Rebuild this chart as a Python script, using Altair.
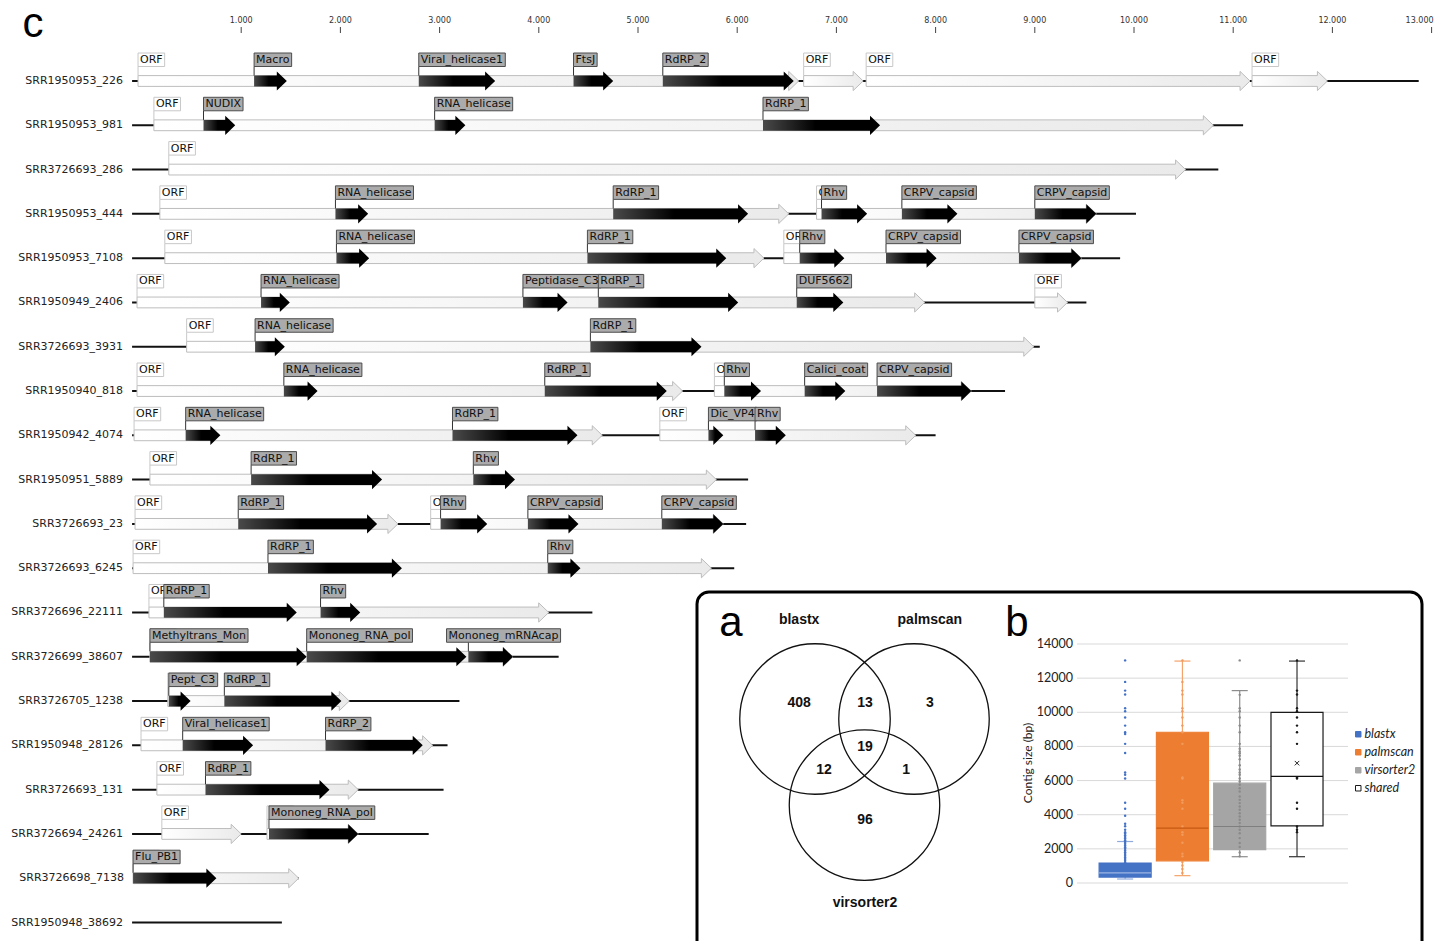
import altair as alt
import pandas as pd

# ---------------- Panel c : genome maps ----------------
contigs = ["SRR1950953_226", "SRR1950953_981", "SRR3726693_286", "SRR1950953_444",
           "SRR1950953_7108", "SRR1950949_2406", "SRR3726693_3931", "SRR1950940_818",
           "SRR1950942_4074", "SRR1950951_5889", "SRR3726693_23", "SRR3726693_6245",
           "SRR3726696_22111", "SRR3726699_38607", "SRR3726705_1238", "SRR1950948_28126",
           "SRR3726693_131", "SRR3726694_24261", "SRR3726698_7138", "SRR1950948_38692"]
contig_start = [-100, -100, -100, -100, -100, -100, -100, -100, -100, -100,
                -100, -100, -100, -100, -100, -100, -100, -100, -90, -100]
contig_end = [12870, 11100, 10850, 10020, 9860, 9520, 9050, 8700, 8000, 6110,
              6090, 5970, 4540, 4200, 3200, 3080, 3040, 2890, 1580, 1410]

orf_row = [0, 0, 0, 0, 1, 2, 3, 3, 4, 4, 5, 5, 6, 7, 7, 8, 8, 9, 10, 10,
           11, 12, 13, 14, 15, 16, 17, 17, 18]
orf_start = [-40, 6670, 7300, 11190, 120, 270, 180, 6800, 230, 6470, -50, 9000, 450,
             -50, 5770, -80, 5220, 80, -70, 2910, -90, 70, 80, 260, -10, 150, 200, 1260, -90]
orf_end = [6620, 7270, 11170, 11950, 10800, 10520, 6520, 9620, 6270, 9470, 7890, 9330, 8990,
           5450, 8360, 4640, 7800, 5790, 2580, 5860, 5740, 4100, 3740, 2090, 2930, 2180,
           1000, 2180, 1580]

dom_row = [0, 0, 0, 0, 1, 1, 1, 3, 3, 3, 3, 3, 4, 4, 4, 4, 4, 5, 5, 5, 5, 6, 6,
           7, 7, 7, 7, 7, 8, 8, 8, 8, 9, 9, 10, 10, 10, 10, 11, 11, 12, 12,
           13, 13, 13, 14, 14, 15, 15, 16, 17, 18]
dom_name = ["Macro", "Viral_helicase1", "FtsJ", "RdRP_2",
            "NUDIX", "RNA_helicase", "RdRP_1",
            "RNA_helicase", "RdRP_1", "Rhv", "CRPV_capsid", "CRPV_capsid",
            "RNA_helicase", "RdRP_1", "Rhv", "CRPV_capsid", "CRPV_capsid",
            "RNA_helicase", "Peptidase_C3", "RdRP_1", "DUF5662",
            "RNA_helicase", "RdRP_1",
            "RNA_helicase", "RdRP_1", "Rhv", "Calici_coat", "CRPV_capsid",
            "RNA_helicase", "RdRP_1", "Dic_VP4", "Rhv",
            "RdRP_1", "Rhv",
            "RdRP_1", "Rhv", "CRPV_capsid", "CRPV_capsid",
            "RdRP_1", "Rhv",
            "RdRP_1", "Rhv",
            "Methyltrans_Mon", "Mononeg_RNA_pol", "Mononeg_mRNAcap",
            "Pept_C3", "RdRP_1",
            "Viral_helicase1", "RdRP_2",
            "RdRP_1",
            "Mononeg_RNA_pol",
            "Flu_PB1"]
dom_start = [1130, 2790, 4350, 5250, 620, 2950, 6260, 1950, 4750, 6850, 7660, 9000,
             1960, 4490, 6630, 7500, 8840, 1200, 3840, 4600, 6600, 1140, 4520,
             1430, 4060, 5870, 6680, 7410, 440, 3130, 5710, 6180, 1100, 3340,
             970, 3010, 3890, 5240, 1270, 4090, 220, 1800, 80, 1660, 3290,
             270, 830, 410, 1850, 640, 1280, -90]
dom_end = [1460, 3560, 4750, 6570, 940, 3260, 7440, 2280, 6110, 7310, 8220, 9620,
           2290, 5890, 7080, 8010, 9470, 1490, 4290, 6010, 7070, 1440, 5640,
           1770, 5290, 6240, 7090, 8360, 790, 4390, 5860, 6490, 2420, 3760,
           2370, 3480, 4400, 5860, 2620, 4420, 1560, 2200, 1660, 3270, 3740,
           490, 2010, 1120, 2830, 1890, 2180, 750]
dom_label_start = list(dom_start)
dom_label_start[44] = 3070  # Mononeg_mRNAcap label is shifted left

axis_ticks = [1000, 2000, 3000, 4000, 5000, 6000, 7000, 8000, 9000, 10000, 11000, 12000, 13000]

# ---------------- Panel a : Venn ----------------
venn_sets = ["blastx", "palmscan", "virsorter2"]
venn_cx = [0.0, 1.0, 0.5]
venn_cy = [0.0, 0.0, -0.87]
venn_radius = 0.76
venn_label_x = [-0.16, 1.16, 0.505]
venn_label_y = [1.0, 1.0, -1.86]
venn_counts = ["408", "13", "3", "19", "12", "1", "96"]
venn_count_x = [-0.16, 0.505, 1.16, 0.505, 0.09, 0.92, 0.505]
venn_count_y = [0.16, 0.16, 0.16, -0.28, -0.52, -0.52, -1.02]

# ---------------- Panel b : box plot ----------------
groups = ["blastx", "palmscan", "virsorter2", "shared"]
q_low = [234, 430, 1540, 1540]
q1 = [350, 1300, 1950, 3350]
q_med = [590, 3220, 3310, 6240]
q3 = [1170, 8830, 5850, 10000]
q_high = [2430, 13000, 11270, 13000]
shared_mean = 7020
box_ticks = [0, 2000, 4000, 6000, 8000, 10000, 12000, 14000]
pts_blastx = [13040, 11780, 11270, 11040, 10240, 10060, 9690, 9220, 8830, 8730, 8150, 7620,
              6470, 6340, 6120, 4700, 4350, 3940, 3470, 3320, 3120, 2980, 2900, 2800, 2700,
              2600, 2500, 2400, 2300, 2200, 2100, 2000, 1900, 1800, 1700, 1600, 1500, 1400,
              1300, 1200]
pts_palmscan = [13040, 11780, 11270, 11040, 10240, 10060, 9690, 9220, 8830, 8150, 6180, 6120,
                4850, 4700, 4350, 3310, 2980, 2830, 2360, 1720, 1560, 1230, 1030, 820, 580]
pts_virsorter2 = [13040, 11020, 10240, 10060, 9690, 9220, 8830, 8150, 7860, 7700, 7600, 7450,
                  7250, 6900, 6650, 6470, 6340, 6120, 5950, 5750, 5550, 5360, 5070, 4870, 4680,
                  4480, 4290, 4090, 3900, 3700, 3510, 3310, 3120, 2920, 2630, 2340, 2110, 1790,
                  1560]
pts_shared = [13040, 11270, 11040, 10240, 10060, 9690, 9220, 8830, 8150, 6180, 6120, 4700,
              4350, 3310, 3120, 2980]

# ================= styling / geometry =================
XD, XR = [0, 13000], [134, 1423.6]
YD, YR = [0, 19], [73, 914.5]
PX_PER_BP = (XR[1] - XR[0]) / (XD[1] - XD[0])
ROW_PX = (YR[1] - YR[0]) / (YD[1] - YD[0])
XS = alt.Scale(domain=XD, range=XR, nice=False, zero=False)
YS = alt.Scale(domain=YD, range=YR, nice=False, zero=False)

DJV = {'A': 1401, 'B': 1405, 'C': 1430, 'D': 1577, 'E': 1294, 'F': 1178, 'I': 604, 'J': 604,
       'M': 1767, 'N': 1532, 'O': 1612, 'P': 1235, 'R': 1423, 'S': 1300, 'T': 1251,
       'U': 1499, 'V': 1401, 'X': 1403, 'a': 1255, 'b': 1300, 'c': 1126, 'd': 1300,
       'e': 1260, 'f': 721, 'g': 1300, 'h': 1298, 'i': 569, 'j': 569, 'l': 569, 'm': 1995,
       'n': 1298, 'o': 1253, 'p': 1300, 'r': 842, 's': 1067, 't': 803, 'u': 1298,
       'v': 1212, 'y': 1212, '_': 1024}
FS = 11


def text_px(s):
    return sum(DJV.get(ch, 1303) for ch in s) / 2048.0 * FS


BODY_H = 5.4 / ROW_PX
HEAD_H = 9.6 / ROW_PX
HEAD_L = 10.0 / PX_PER_BP
LAB_TOP = -28.0 / ROW_PX
LAB_BOT = -14.5 / ROW_PX
LAB_MID = -21.0 / ROW_PX


def arrows(rows, starts, ends, prefix):
    recs = []
    for k, (r, s, e) in enumerate(zip(rows, starts, ends)):
        h = max(s, e - HEAD_L)
        pts = []
        if h - 0.5 > s:
            pts += [(s, r - BODY_H, r + BODY_H), (h - 0.5, r - BODY_H, r + BODY_H)]
        pts += [(h, r - HEAD_H, r + HEAD_H), (e, r, r)]
        for (x, y0, y1) in pts:
            recs.append({"id": f"{prefix}{k}", "x": x, "y": y0, "y2": y1})
    return pd.DataFrame(recs)


def labels(rows, starts, names, feat_starts):
    return pd.DataFrame({
        "row": rows, "name": names, "ls": starts, "fs": feat_starts,
        "le": [s + (text_px(n) + 4) / PX_PER_BP for s, n in zip(starts, names)],
        "ly0": [r + LAB_TOP for r in rows], "ly1": [r + LAB_BOT for r in rows],
        "lym": [r + LAB_MID for r in rows], "cy1": [r - BODY_H for r in rows],
    })


lines_df = pd.DataFrame({"row": list(range(len(contigs))), "name": contigs,
                         "x0": contig_start, "x1": contig_end})
orf_arrows = arrows(orf_row, orf_start, orf_end, "o")
dom_arrows = arrows(dom_row, dom_start, dom_end, "d")
orf_labels = labels(orf_row, orf_start, ["ORF"] * len(orf_row), orf_start)
dom_labels = labels(dom_row, dom_label_start, dom_name, dom_start)
# an ORF label that sits exactly under a domain label is completely hidden: no text for it
hidden = [any(dr == r and abs(ds - s) < 40 for dr, ds in zip(dom_row, dom_label_start))
          for r, s in zip(orf_row, orf_start)]
orf_label_text = orf_labels[[not h for h in hidden]]

ORF_GRAD = alt.LinearGradient(gradient="linear", x1=0, x2=1, y1=0, y2=0,
                              stops=[alt.GradientStop(offset=0, color="#ffffff"),
                                     alt.GradientStop(offset=1, color="#eaeaea")])
DOM_GRAD = alt.LinearGradient(gradient="linear", x1=0, x2=1, y1=0, y2=0,
                              stops=[alt.GradientStop(offset=0, color="#4a4a4a"),
                                     alt.GradientStop(offset=0.45, color="#000000"),
                                     alt.GradientStop(offset=1, color="#000000")])

tick_df = pd.DataFrame({"t": axis_ticks,
                        "lab": [f"{t:,}".replace(",", ".") for t in axis_ticks]})
ax_ticks = alt.Chart(tick_df).mark_rule(color="#444", strokeWidth=1).encode(
    x=alt.X("t:Q", scale=XS, axis=None), y=alt.value(19), y2=alt.value(25))
ax_labels = alt.Chart(tick_df[:-1]).mark_text(align="center", baseline="bottom",
                                               font="DejaVu Sans", fontSize=8,
                                               color="#333").encode(
    x=alt.X("t:Q", scale=XS, axis=None), y=alt.value(17), text="lab:N")
ax_last = alt.Chart(tick_df[-1:]).mark_text(align="right", baseline="bottom", dx=2,
                                             font="DejaVu Sans", fontSize=8,
                                             color="#333").encode(
    x=alt.X("t:Q", scale=XS, axis=None), y=alt.value(17), text="lab:N")

c_lines = alt.Chart(lines_df).mark_rule(color="#111", strokeWidth=2).encode(
    x=alt.X("x0:Q", scale=XS, axis=None), x2="x1:Q",
    y=alt.Y("row:Q", scale=YS, axis=None))
c_names = alt.Chart(lines_df).mark_text(align="right", baseline="middle", dx=-9,
                                        font="DejaVu Sans", fontSize=11, color="#222").encode(
    x=alt.X("x0:Q", scale=XS, axis=None), y=alt.Y("row:Q", scale=YS, axis=None), text="name:N")


def arrow_layer(df, **mk):
    return alt.Chart(df).mark_area(**mk).encode(
        x=alt.X("x:Q", scale=XS, axis=None), y=alt.Y("y:Q", scale=YS, axis=None),
        y2="y2:Q", detail="id:N")


def label_layers(df, df_text, box_fill, box_stroke, conn):
    connector = alt.Chart(df).mark_rule(color=conn, strokeWidth=1).encode(
        x=alt.X("fs:Q", scale=XS, axis=None), y=alt.Y("ly1:Q", scale=YS, axis=None), y2="cy1:Q")
    box = alt.Chart(df).mark_rect(fill=box_fill, stroke=box_stroke, strokeWidth=1).encode(
        x=alt.X("ls:Q", scale=XS, axis=None), x2="le:Q",
        y=alt.Y("ly0:Q", scale=YS, axis=None), y2="ly1:Q")
    txt = alt.Chart(df_text).mark_text(align="left", baseline="middle", dx=2, font="DejaVu Sans",
                                       fontSize=FS, color="#111").encode(
        x=alt.X("ls:Q", scale=XS, axis=None), y=alt.Y("lym:Q", scale=YS, axis=None),
        text="name:N")
    return [connector, box, txt]


panel_c = alt.layer(
    ax_ticks, ax_labels, ax_last,
    c_lines, c_names,
    arrow_layer(orf_arrows, fill=ORF_GRAD, stroke="#bdbdbd", strokeWidth=1),
    arrow_layer(dom_arrows, fill=DOM_GRAD, strokeWidth=0),
    *label_layers(orf_labels, orf_label_text, "#ffffff", "#c8c8c8", "#c8c8c8"),
    *label_layers(dom_labels, dom_labels, "#ababab", "#4d4d4d", "#333333"),
)

# ---------------- Venn ----------------
VXS = alt.Scale(domain=[-1, 2], range=[708, 1005], nice=False, zero=False)
VYS = alt.Scale(domain=[-2, 1], range=[909, 612], nice=False, zero=False)
V_UNIT_PX = (1005 - 708) / 3.0
venn_c = pd.DataFrame({"set": venn_sets, "cx": venn_cx, "cy": venn_cy,
                       "lx": venn_label_x, "ly": venn_label_y})
venn_n = pd.DataFrame({"n": venn_counts, "x": venn_count_x, "y": venn_count_y})
circles = alt.Chart(venn_c).mark_point(shape="circle", filled=False, color="#111",
                                       strokeWidth=1.3, opacity=1,
                                       size=(2 * venn_radius * V_UNIT_PX) ** 2).encode(
    x=alt.X("cx:Q", scale=VXS, axis=None), y=alt.Y("cy:Q", scale=VYS, axis=None))
set_labels = alt.Chart(venn_c).mark_text(font="Liberation Sans", fontWeight="bold",
                                         fontSize=14, color="#111").encode(
    x=alt.X("lx:Q", scale=VXS, axis=None), y=alt.Y("ly:Q", scale=VYS, axis=None), text="set:N")
counts = alt.Chart(venn_n).mark_text(font="Liberation Sans", fontWeight="bold",
                                     fontSize=14, color="#111").encode(
    x=alt.X("x:Q", scale=VXS, axis=None), y=alt.Y("y:Q", scale=VYS, axis=None), text="n:N")
venn = alt.layer(circles, set_labels, counts)

# ---------------- Box plot ----------------
BXD = [-0.84, 3.89]
BXS = alt.Scale(domain=BXD, range=[1069, 1340], nice=False, zero=False)
BYS = alt.Scale(domain=[0, 14000], range=[875, 636], nice=False, zero=False)
HALF = 0.454
CAP = 0.14
fills = ["#4472C4", "#ED7D31", "#A5A5A5", "#FFFFFF"]
strokes = ["#4472C4", "#ED7D31", "#A5A5A5", "#1a1a1a"]
whisk_col = ["#8FAADC", "#F4A46A", "#8c8c8c", "#333333"]
med_col = ["#9DB5E3", "#C55A11", "#7f7f7f", "#111111"]
pt_col = ["#4472C4", "#F29A5C", "#8a8a8a", "#1a1a1a"]

idx = list(range(len(groups)))
box_df = pd.DataFrame({"group": groups, "i": idx, "lo": q_low, "q1": q1, "med": q_med,
                       "q3": q3, "hi": q_high,
                       "b0": [i - HALF for i in idx], "b1": [i + HALF for i in idx],
                       "c0": [i - CAP for i in idx], "c1": [i + CAP for i in idx],
                       "wc": whisk_col, "mc": med_col})
pts = []
for i, (g, vals) in enumerate(zip(groups, [pts_blastx, pts_palmscan, pts_virsorter2, pts_shared])):
    for v in vals:
        pts.append({"group": g, "i": i, "v": v, "pc": pt_col[i]})
pts_df = pd.DataFrame(pts)
grid_df = pd.DataFrame({"t": box_ticks, "g0": BXD[0], "g1": BXD[1]})
mean_df = pd.DataFrame({"i": [3], "v": [shared_mean]})

LEG = alt.Legend(orient="none", legendX=1344, legendY=720, title=None, symbolType="square",
                 symbolSize=30, symbolStrokeWidth=1, labelFont="Lato", labelFontStyle="italic",
                 labelFontSize=12.5, labelColor="#222", rowPadding=5, labelOffset=0, padding=0)

grid = alt.Chart(grid_df).mark_rule(color="#d9d9d9", strokeWidth=1).encode(
    x=alt.X("g0:Q", scale=BXS, axis=None), x2="g1:Q",
    y=alt.Y("t:Q", scale=BYS, axis=None))
ylabels = alt.Chart(grid_df).mark_text(align="right", baseline="middle", dx=-4, font="Lato",
                                       fontSize=12.5, color="#222").encode(
    x=alt.X("g0:Q", scale=BXS, axis=None), y=alt.Y("t:Q", scale=BYS, axis=None),
    text=alt.Text("t:Q", format="d"))
ytitle = alt.Chart(pd.DataFrame({"ttl": ["Contig size (bp)"]})).mark_text(
    angle=270, align="center", baseline="middle", font="Lato", fontSize=12, color="#222").encode(
    x=alt.value(1020), y=alt.value(755), text="ttl:N")
whiskers = alt.Chart(box_df).mark_rule(strokeWidth=1.2).encode(
    x=alt.X("i:Q", scale=BXS, axis=None), y=alt.Y("lo:Q", scale=BYS, axis=None), y2="hi:Q",
    color=alt.Color("wc:N", scale=None))
cap_hi = alt.Chart(box_df).mark_rule(strokeWidth=1.2).encode(
    x=alt.X("c0:Q", scale=BXS, axis=None), x2="c1:Q", y=alt.Y("hi:Q", scale=BYS, axis=None),
    color=alt.Color("wc:N", scale=None))
cap_lo = alt.Chart(box_df).mark_rule(strokeWidth=1.2).encode(
    x=alt.X("c0:Q", scale=BXS, axis=None), x2="c1:Q", y=alt.Y("lo:Q", scale=BYS, axis=None),
    color=alt.Color("wc:N", scale=None))
boxes = alt.Chart(box_df).mark_rect(strokeWidth=1.2).encode(
    x=alt.X("b0:Q", scale=BXS, axis=None), x2="b1:Q",
    y=alt.Y("q1:Q", scale=BYS, axis=None), y2="q3:Q",
    fill=alt.Fill("group:N", scale=alt.Scale(domain=groups, range=fills), legend=LEG),
    stroke=alt.Stroke("group:N", scale=alt.Scale(domain=groups, range=strokes), legend=LEG))
points = alt.Chart(pts_df).mark_circle(size=6, opacity=1).encode(
    x=alt.X("i:Q", scale=BXS, axis=None), y=alt.Y("v:Q", scale=BYS, axis=None),
    color=alt.Color("pc:N", scale=None))
medians = alt.Chart(box_df).mark_rule(strokeWidth=1.2).encode(
    x=alt.X("b0:Q", scale=BXS, axis=None), x2="b1:Q", y=alt.Y("med:Q", scale=BYS, axis=None),
    color=alt.Color("mc:N", scale=None))
mean_mark = alt.Chart(mean_df).mark_point(shape="M -1 -1 L 1 1 M -1 1 L 1 -1", size=20,
                                          filled=False, strokeWidth=1, color="#222",
                                          opacity=1).encode(
    x=alt.X("i:Q", scale=BXS, axis=None), y=alt.Y("v:Q", scale=BYS, axis=None))
box_panel = alt.layer(grid, ylabels, whiskers, cap_hi, cap_lo, boxes, points, medians, mean_mark)

# ---------------- frame and panel letters ----------------
one = pd.DataFrame({"k": [0]})
frame = alt.Chart(one).mark_rect(fill="transparent", stroke="#000", strokeWidth=3,
                                 cornerRadius=12).encode(
    x=alt.value(689), x2=alt.value(1414), y=alt.value(584), y2=alt.value(950))


def letter(t, x, y):
    return alt.Chart(one).mark_text(text=t, font="Liberation Sans", fontSize=42, align="center",
                                    baseline="alphabetic", color="#000").encode(
        x=alt.value(x), y=alt.value(y))


letters = alt.layer(letter("c", 25, 29), letter("a", 723, 628), letter("b", 1009, 628), ytitle)

chart = alt.layer(frame, panel_c, venn, box_panel, letters).resolve_scale(
    x="independent", y="independent"
).properties(
    width=1432, height=933, padding=0, autosize=alt.AutoSizeParams(type="none"),
    background="white"
).configure_view(strokeWidth=0)

chart.save("out.html", embed_options={"renderer": "svg", "actions": False})
